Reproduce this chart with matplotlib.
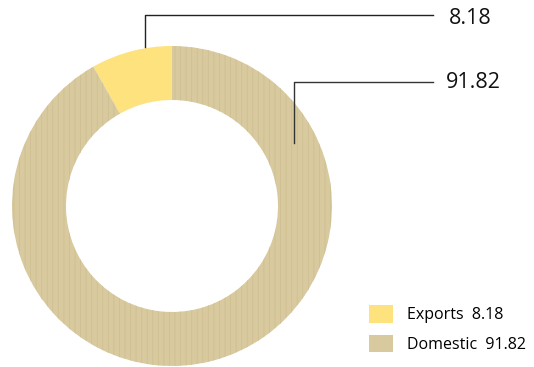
import matplotlib.pyplot as plt
from matplotlib.patches import Patch

labels = ["Exports", "Domestic"]
values = [8.18, 91.82]
colors = ["#FEE27E", "#D8CA9E"]

W, H = 534, 367

plt.rcParams['font.family'] = ['Open Sans', 'DejaVu Sans']
plt.rcParams['hatch.linewidth'] = 0.6
plt.rcParams['hatch.color'] = "#CFC093"

fig = plt.figure(figsize=(W / 100, H / 100), dpi=100)
ax = fig.add_axes([0, 0, 1, 1])

# donut, exports start at 12 o'clock going left
wedges, _ = ax.pie(values, colors=colors, startangle=90, counterclock=True,
                   center=(172, H - 206), radius=160, frame=True,
                   wedgeprops=dict(width=54, linewidth=0))
wedges[1].set_hatch('|||')
ax.set_xlim(0, W)
ax.set_ylim(0, H)
ax.set_aspect('equal')
ax.axis('off')

# leader lines
ax.plot([145, 145, 433], [H - 47, H - 15, H - 15], color="#222222", lw=1)
ax.plot([294, 294, 433], [H - 143, H - 82, H - 82], color="#333333", lw=1)
ax.text(449, H - 18, f"{values[0]:.2f}", fontsize=15.5, va='center', ha='left', color="#111111")
ax.text(446, H - 82, f"{values[1]:.2f}", fontsize=15.5, va='center', ha='left', color="#111111")

handles = [Patch(facecolor=colors[0], edgecolor='none'),
           Patch(facecolor=colors[1], edgecolor='none', hatch='|||')]
leg_labels = [f"{l}  {v:.2f}" for l, v in zip(labels, values)]
ax.legend(handles, leg_labels, loc='lower right', bbox_to_anchor=(1.012, 0.0),
          frameon=False, fontsize=11.5, handlelength=1.5, handleheight=1.3,
          handletextpad=0.9, labelspacing=0.7)

fig.savefig("out.png", dpi=100)
